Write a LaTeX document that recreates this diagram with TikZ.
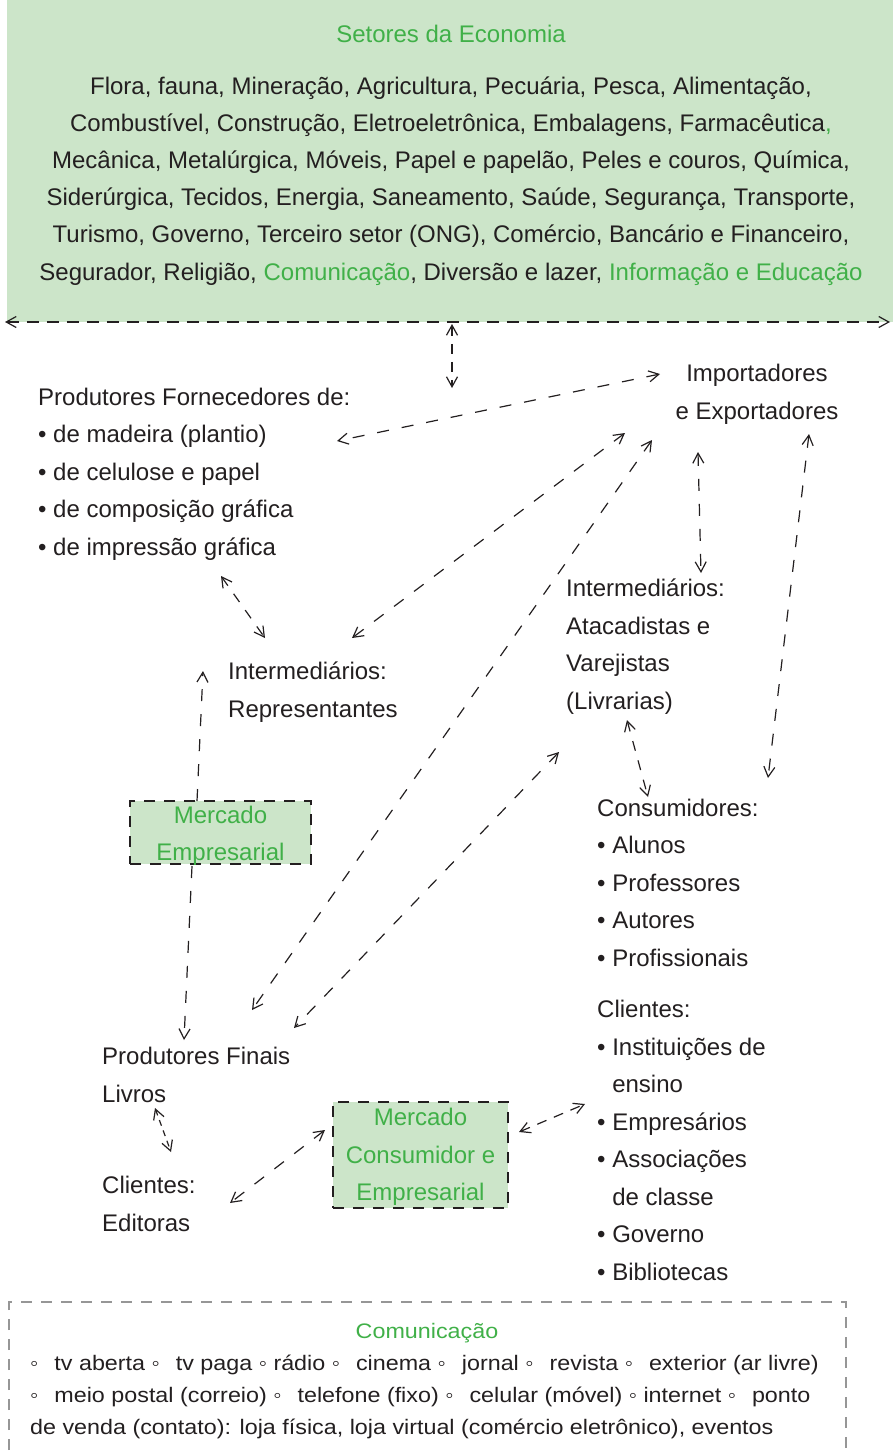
\documentclass[tikz,border=0pt]{standalone}
\usepackage{fontspec}
\setmainfont{Liberation Sans}
\newfontfamily\widesans[FakeStretch=1.11]{Liberation Sans}
\usetikzlibrary{arrows.meta,calc}
\definecolor{grn}{RGB}{64,176,72}
\definecolor{pale}{RGB}{204,229,201}
\definecolor{ink}{RGB}{35,31,32}
\definecolor{frame}{RGB}{150,150,150}
\newcommand\wgap{\hspace{16pt}}
\tikzset{
  txt/.style={inner sep=0pt, text=ink, font=\fontsize{24}{37.5}\selectfont},
  gtxt/.style={txt, text=grn},
  barbs/.style={{Straight Barb[length=10pt,width=11pt,line width=1.2pt]}-{Straight Barb[length=10pt,width=11pt,line width=1.2pt]}},
  link/.style={draw=ink, line width=1.2pt, dash pattern=on 12pt off 13pt, barbs},
  onelink/.style={draw=ink, line width=1.2pt, dash pattern=on 12pt off 13pt,
    -{Straight Barb[length=10pt,width=11pt,line width=1.2pt]}},
  bandlink/.style={link, dash pattern=on 12pt off 8pt},
  market/.style={draw=ink, fill=pale, line width=1.2pt, dash pattern=on 11pt off 9pt, inner sep=0pt},
}
\begin{document}
\begin{tikzpicture}[x=1pt,y=-1pt]
\useasboundingbox (0,0) rectangle (893,1451);

% economy sectors band (base anchors sit on the last line of each block)
\fill[pale] (7,0) rectangle (893,322);
\node[gtxt, anchor=base] (setores) at (451,42) {Setores da Economia};
\node[txt, anchor=base, align=center, font=\fontsize{24}{37.2}\selectfont] (lista) at (451,280)
  {Flora, fauna, Mineração, Agricultura, Pecuária, Pesca, Alimentação,\\
   Combustível, Construção, Eletroeletrônica, Embalagens, Farmacêutica\textcolor{grn}{,}\\
   Mecânica, Metalúrgica, Móveis, Papel e papelão, Peles e couros, Química,\\
   Siderúrgica, Tecidos, Energia, Saneamento, Saúde, Segurança, Transporte,\\
   Turismo, Governo, Terceiro setor (ONG), Comércio, Bancário e Financeiro,\\
   Segurador, Religião, \textcolor{grn}{Comunicação}, Diversão e lazer, \textcolor{grn}{Informação e Educação}};

% text blocks
\node[txt, anchor=base west, align=left] (forn) at (38,555)
  {Produtores Fornecedores de:\\• de madeira (plantio)\\• de celulose e papel\\• de composição gráfica\\• de impressão gráfica};
\node[txt, anchor=base, align=center] (imp) at (757,419) {Importadores\\e Exportadores};
\node[txt, anchor=base west, align=left] (rep) at (228,717) {Intermediários:\\Representantes};
\node[txt, anchor=base west, align=left] (atac) at (566,709)
  {Intermediários:\\Atacadistas e\\Varejistas\\(Livrarias)};
\node[market, minimum width=181pt, minimum height=63pt] (mercE) at (220.5,832.5) {};
\node[gtxt, anchor=base, align=center] (mercEtxt) at (220.5,860.5) {Mercado\\Empresarial};
\node[txt, anchor=base west, align=left] (cons) at (597,966)
  {Consumidores:\\• Alunos\\• Professores\\• Autores\\• Profissionais};
\node[txt, anchor=base west, align=left] (cli) at (597,1280)
  {Clientes:\\• Instituições de\\\phantom{• }ensino\\• Empresários\\• Associações\\\phantom{• }de classe\\• Governo\\• Bibliotecas};
\node[txt, anchor=base west, align=left] (pfin) at (102,1102) {Produtores Finais\\Livros};
\node[txt, anchor=base west, align=left] (edit) at (102,1231) {Clientes:\\Editoras};
\node[market, minimum width=175pt, minimum height=106pt] (mercC) at (420.5,1155) {};
\node[gtxt, anchor=base, align=center] (mercCtxt) at (420.5,1200.5) {Mercado\\Consumidor e\\Empresarial};

% communication box
\draw[frame, line width=1.2pt, dash pattern=on 11pt off 9pt] (9,1470) -- (9,1302) -- (846,1302) -- (846,1470);
\node[gtxt, anchor=base, font=\widesans\fontsize{21}{32}\selectfont] (com) at (427,1338) {Comunicação};
\node[txt, anchor=base west, align=left, font=\widesans\fontsize{21}{32}\selectfont] (meios) at (30,1434)
  {◦\wgap tv aberta ◦\wgap tv paga ◦ rádio ◦\wgap cinema ◦\wgap jornal ◦\wgap revista ◦\wgap exterior (ar livre)\\
   ◦\wgap meio postal (correio) ◦\wgap telefone (fixo) ◦\wgap celular (móvel) ◦ internet ◦\wgap ponto\\
   de venda (contato): loja física, loja virtual (comércio eletrônico), eventos};

% connector ends
\coordinate (bandL) at (5,322);
\coordinate (bandR) at (890,322);
\coordinate (bandM) at (452,324);
\coordinate (fornTop) at (452,388);
\coordinate (impW) at (660,374);
\coordinate (fornE) at (337,441);
\coordinate (impA) at (625,433);
\coordinate (repNE) at (352,638);
\coordinate (impB) at (652,440);
\coordinate (pfinNE) at (252,1010);
\coordinate (impS) at (698,452);
\coordinate (atacN) at (701,573);
\coordinate (impSE) at (809,434);
\coordinate (consNE) at (768,778);
\coordinate (fornS) at (221,576);
\coordinate (repNW) at (265,638);
\coordinate (mercEtop) at (197,801);
\coordinate (repW) at (203,671);
\coordinate (mercEbot) at (192,866);
\coordinate (pfinN) at (184,1040);
\coordinate (atacSW) at (559,752);
\coordinate (pfinE) at (294,1028);
\coordinate (atacS) at (627,720);
\coordinate (consN) at (648,797);
\coordinate (pfinS) at (155,1108);
\coordinate (editN) at (171,1152);
\coordinate (mercCW) at (325,1130);
\coordinate (editE) at (230,1203);
\coordinate (mercCE) at (519,1132);
\coordinate (cliW) at (585,1104);

% connectors
\draw[bandlink] (bandL) -- (bandR);
\draw[link, dash pattern=on 10pt off 8pt] (bandM) -- (fornTop);
\draw[link] (impW) -- (fornE);
\draw[link] (impA) -- (repNE);
\draw[link] (impB) -- (pfinNE);
\draw[link] (impS) -- (atacN);
\draw[link] (impSE) -- (consNE);
\draw[link, dash pattern=on 10pt off 10pt] (fornS) -- (repNW);
\draw[onelink] (mercEtop) -- (repW);
\draw[onelink] (mercEbot) -- (pfinN);
\draw[link] (atacSW) -- (pfinE);
\draw[link, dash pattern=on 10pt off 10pt] (atacS) -- (consN);
\draw[link, dash pattern=on 6pt off 5pt] (pfinS) -- (editN);
\draw[link] (mercCW) -- (editE);
\draw[link, dash pattern=on 10pt off 8pt] (mercCE) -- (cliW);
\end{tikzpicture}
\end{document}
